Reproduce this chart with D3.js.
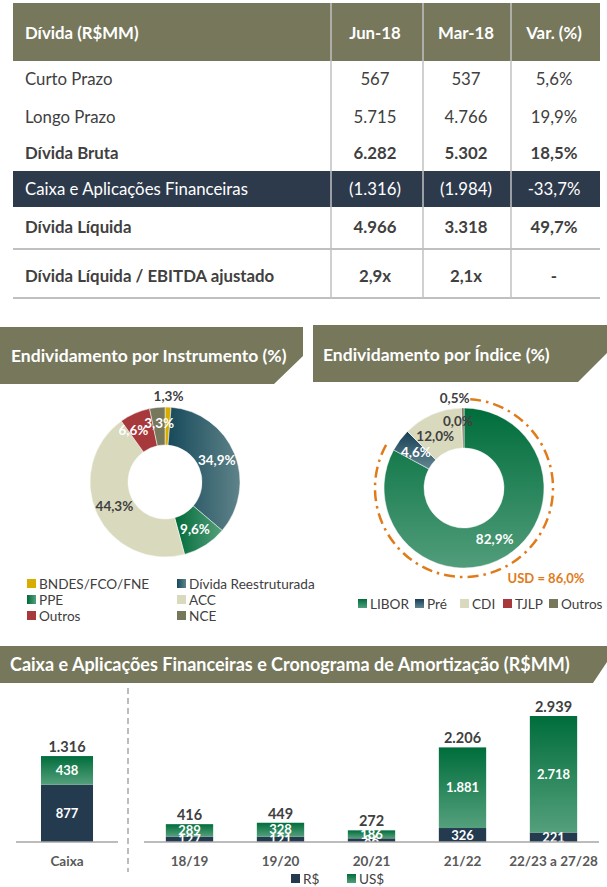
<!DOCTYPE html>
<html><head><meta charset="utf-8">
<script src="https://cdn.jsdelivr.net/npm/d3@7"></script>
<style>
body{margin:0;background:#fff;}
svg{display:block;font-family:Lato,"Open Sans",sans-serif;}
</style>
</head><body>
<svg id="c" width="607" height="887"></svg>
<script>
// ---------------- DATA ----------------
const tableHeader = ["Dívida (R$MM)", "Jun-18", "Mar-18", "Var. (%)"];
const rowLabels = ["Curto Prazo", "Longo Prazo", "Dívida Bruta", "Caixa e Aplicações Financeiras", "Dívida Líquida", "Dívida Líquida / EBITDA ajustado"];
const jun18 = ["567", "5.715", "6.282", "(1.316)", "4.966", "2,9x"];
const mar18 = ["537", "4.766", "5.302", "(1.984)", "3.318", "2,1x"];
const varPct = ["5,6%", "19,9%", "18,5%", "-33,7%", "49,7%", "-"];
const rowBold = [false, false, true, false, true, true];

const instrTitle = "Endividamento por Instrumento (%)";
const instrCategories = ["BNDES/FCO/FNE", "Dívida Reestruturada", "PPE", "ACC", "Outros", "NCE"];
const instrValues = [1.3, 34.9, 9.6, 44.3, 6.6, 3.3];

const indexTitle = "Endividamento por Índice (%)";
const indexCategories = ["LIBOR", "Pré", "CDI", "TJLP", "Outros"];
const indexValues = [82.9, 4.6, 12.0, 0.0, 0.5];
const usdLabel = "USD = 86,0%";

const barTitle = "Caixa e Aplicações Financeiras e Cronograma de Amortização (R$MM)";
const cashCategory = ["Caixa"];
const cashBRL = [877];
const cashUSD = [438];
const cashTotal = [1316];
const periods = ["18/19", "19/20", "20/21", "21/22", "22/23 a 27/28"];
const amortBRL = [127, 121, 86, 326, 221];
const amortUSD = [289, 328, 186, 1881, 2718];
const amortTotal = [416, 449, 272, 2206, 2939];
const barSeries = ["R$", "US$"];

const fmt = v => d3.format(",.0f")(v).replace(/,/g, ".");
const pct = v => d3.format(".1f")(v).replace(".", ",") + "%";

// ---------------- SETUP ----------------
const svg = d3.select("#c");
const defs = svg.append("defs");
function grad(id, c0, c1, horizontal) {
  const g = defs.append("linearGradient").attr("id", id)
    .attr("x1", 0).attr("y1", 0).attr("x2", horizontal ? 1 : 0).attr("y2", horizontal ? 0 : 1);
  g.append("stop").attr("offset", 0).attr("stop-color", c0);
  g.append("stop").attr("offset", 1).attr("stop-color", c1);
  return `url(#${id})`;
}
const OLIVE = "#76775b", NAVY = "#2d3a4c", TXT = "#404040";
const gReestr = grad("gReestr", "#174a5b", "#5f8389", true);
const gPPE = grad("gPPE", "#006a38", "#55a07c", true);
const gLibor = grad("gLibor", "#006d3b", "#519d7b", false);
const gPre = grad("gPre", "#173f55", "#628690", false);
const gUSD = grad("gUSD", "#006d3b", "#54a07c", false);

function headerBox(x0, y0, x1, y1, cutY, cutX) {
  svg.append("path")
    .attr("d", `M${x0},${y0}L${x1},${y0}L${x1},${cutY}L${cutX},${y1}L${x0},${y1}Z`)
    .attr("fill", OLIVE);
}

// ---------------- TABLE ----------------
const tbl = svg.append("g");
const tLeft = 13, tRight = 600;
const colX = [25, 375, 466, 554];
const rowY = [79, 117, 153, 189, 227, 276];
const TFS = 16.8;
tbl.append("rect").attr("x", tLeft).attr("y", 3).attr("width", tRight - tLeft).attr("height", 58).attr("fill", OLIVE);
tbl.append("rect").attr("x", tLeft).attr("y", 171).attr("width", tRight - tLeft).attr("height", 36).attr("fill", NAVY);
[331, 423, 511].forEach(x => tbl.append("line").attr("x1", x).attr("x2", x).attr("y1", 3).attr("y2", 299)
  .attr("stroke", "#c0c0c0").attr("stroke-width", 1.5));
[249, 298].forEach(y => tbl.append("line").attr("x1", tLeft).attr("x2", tRight).attr("y1", y).attr("y2", y)
  .attr("stroke", "#c0c0c0").attr("stroke-width", 2));
tableHeader.forEach((h, i) => tbl.append("text").attr("x", colX[i]).attr("y", 33).attr("dy", "0.35em")
  .attr("text-anchor", i === 0 ? "start" : "middle").attr("fill", "#fff").attr("font-weight", "bold")
  .attr("font-size", TFS).text(h));
rowLabels.forEach((lab, r) => {
  const fill = r === 3 ? "#fff" : TXT;
  const fw = rowBold[r] ? "bold" : "normal";
  [lab, jun18[r], mar18[r], varPct[r]].forEach((t, i) => tbl.append("text").attr("x", colX[i]).attr("y", rowY[r])
    .attr("dy", "0.35em").attr("text-anchor", i === 0 ? "start" : "middle").attr("fill", fill)
    .attr("font-weight", fw).attr("font-size", TFS).text(t));
});

// ---------------- DONUT 1 ----------------
headerBox(0, 327, 303, 384, 356, 274);
svg.append("text").attr("x", 11).attr("y", 356).attr("dy", "0.35em").attr("fill", "#fff")
  .attr("font-weight", "bold").attr("font-size", 17.5).text(instrTitle);

const instrColors = ["#d9ac00", gReestr, gPPE, "#d9d9bd", "#a7383b", OLIVE];
const pie = d3.pie().sort(null).value(d => d);
const d1 = svg.append("g").attr("transform", "translate(165,482)");
const arc1 = d3.arc().innerRadius(37).outerRadius(75);
const arcs1 = pie(instrValues);
d1.selectAll("path").data(arcs1).join("path").attr("d", arc1)
  .attr("fill", (d, i) => instrColors[i]).attr("stroke", "#fff").attr("stroke-width", 0.5);
const lblArc1 = d3.arc().innerRadius(56).outerRadius(56);
const outArc1 = d3.arc().innerRadius(86).outerRadius(86);
arcs1.forEach((a, i) => {
  const c = i === 0 ? outArc1.centroid(a) : lblArc1.centroid(a);
  const dark = i === 0 || i === 3;
  d1.append("text").attr("x", c[0] + (i === 4 ? -9 : 0)).attr("y", c[1] + (i === 5 ? -3 : 0)).attr("dy", "0.35em")
    .attr("text-anchor", "middle").attr("font-weight", "bold").attr("font-size", 13.5)
    .attr("fill", dark ? TXT : "#fff").text(pct(instrValues[i]));
});
// legend 1
const lg1 = svg.append("g");
instrCategories.forEach((c, i) => {
  const x = i % 2 === 0 ? 27 : 177, y = 584 + Math.floor(i / 2) * 16;
  lg1.append("rect").attr("x", x).attr("y", y - 5).attr("width", 9).attr("height", 9).attr("fill", instrColors[i]);
  lg1.append("text").attr("x", x + 12).attr("y", y).attr("dy", "0.35em").attr("font-size", 13.6)
    .attr("fill", TXT).text(c);
});

// ---------------- DONUT 2 ----------------
headerBox(313, 325, 607, 382, 353, 578);
svg.append("text").attr("x", 323).attr("y", 355).attr("dy", "0.35em").attr("fill", "#fff")
  .attr("font-weight", "bold").attr("font-size", 17.5).text(indexTitle);
const indexColors = [gLibor, gPre, "#d9d9bd", "#a7383b", OLIVE];
const d2 = svg.append("g").attr("transform", "translate(464,488)");
const arc2 = d3.arc().innerRadius(40).outerRadius(80);
const arcs2 = pie(indexValues);
d2.selectAll("path").data(arcs2).join("path").attr("d", arc2)
  .attr("fill", (d, i) => indexColors[i]).attr("stroke", "#fff").attr("stroke-width", 0.5);
// USD dash-dot arc
const usdEnd = arcs2[1].startAngle + 0.03;
const p = d3.path();
p.arc(0, 0, 89, 0.07 - Math.PI / 2, usdEnd - Math.PI / 2);
d2.append("path").attr("d", p.toString()).attr("fill", "none").attr("stroke", "#e07b1a")
  .attr("stroke-width", 2.5).attr("stroke-dasharray", "11,5,2.5,5");
const lblArc2 = d3.arc().innerRadius(60).outerRadius(60);
arcs2.forEach((a, i) => {
  let c = lblArc2.centroid(a), anchor = "middle", dark = true;
  if (i === 0 || i === 1) dark = false;
  if (i === 2) c = [c[0] - 5, c[1] + 3];
  if (i === 3) { c = d3.arc().innerRadius(67).outerRadius(67).centroid(a); c = [c[0] + 11, c[1]]; anchor = "end"; }
  if (i === 4) { c = d3.arc().innerRadius(90).outerRadius(90).centroid(a); c = [c[0] + 7, c[1]]; anchor = "end"; }
  d2.append("text").attr("x", c[0]).attr("y", c[1]).attr("dy", "0.35em").attr("text-anchor", anchor)
    .attr("font-weight", "bold").attr("font-size", 13.5).attr("fill", dark ? TXT : "#fff")
    .text(pct(indexValues[i]));
});
svg.append("text").attr("x", 546).attr("y", 578).attr("dy", "0.35em").attr("text-anchor", "middle")
  .attr("font-weight", "bold").attr("font-size", 13).attr("fill", "#e07b1a").text(usdLabel);
// legend 2
const lg2x = [358, 415, 460, 503, 549];
indexCategories.forEach((c, i) => {
  svg.append("rect").attr("x", lg2x[i]).attr("y", 599).attr("width", 9).attr("height", 9).attr("fill", indexColors[i]);
  svg.append("text").attr("x", lg2x[i] + 12).attr("y", 604).attr("dy", "0.35em").attr("font-size", 13.6)
    .attr("fill", TXT).text(c);
});

// ---------------- BAR CHART ----------------
headerBox(0, 646, 607, 683, 662, 593);
svg.append("text").attr("x", 10).attr("y", 665).attr("dy", "0.35em").attr("fill", "#fff")
  .attr("font-weight", "bold").attr("font-size", 18).text(barTitle);

const base = 842;
const xC = d3.scaleBand().domain(cashCategory).range([16, 118]).paddingInner(0.49).paddingOuter(0.245);
const yC = d3.scaleLinear().domain([0, 1316]).range([base, 756]);
const xR = d3.scaleBand().domain(periods).range([144, 599]).paddingInner(0.48).paddingOuter(0.24);
const yR = d3.scaleLinear().domain([0, 3000]).range([base, base - 128.6]);

function drawBars(cats, brl, usd, tot, x, y) {
  const g = svg.append("g");
  cats.forEach((c, i) => {
    const x0 = x(c), w = x.bandwidth();
    g.append("rect").attr("x", x0).attr("y", y(brl[i])).attr("width", w).attr("height", y(0) - y(brl[i])).attr("fill", "#233a4f");
    g.append("rect").attr("x", x0).attr("y", y(brl[i] + usd[i])).attr("width", w)
      .attr("height", y(brl[i]) - y(brl[i] + usd[i])).attr("fill", gUSD);
  });
  cats.forEach((c, i) => {
    const cx = x(c) + x.bandwidth() / 2;
    g.append("text").attr("x", cx).attr("y", (y(0) + y(brl[i])) / 2).attr("dy", "0.35em").attr("text-anchor", "middle")
      .attr("font-weight", "bold").attr("font-size", 13).attr("fill", "#fff").text(fmt(brl[i]));
    g.append("text").attr("x", cx).attr("y", (y(brl[i]) + y(brl[i] + usd[i])) / 2).attr("dy", "0.35em").attr("text-anchor", "middle")
      .attr("font-weight", "bold").attr("font-size", 13).attr("fill", "#fff").text(fmt(usd[i]));
    g.append("text").attr("x", cx).attr("y", y(brl[i] + usd[i]) - 9).attr("dy", "0.35em").attr("text-anchor", "middle")
      .attr("font-weight", "bold").attr("font-size", 14.5).attr("fill", TXT).text(fmt(tot[i]));
    g.append("text").attr("x", cx).attr("y", 861).attr("dy", "0.35em").attr("text-anchor", "middle")
      .attr("font-weight", "bold").attr("font-size", 13.5).attr("fill", "#595959").text(c);
  });
}
drawBars(cashCategory, cashBRL, cashUSD, cashTotal, xC, yC);
drawBars(periods, amortBRL, amortUSD, amortTotal, xR, yR);
// white cover below baseline hides the part of small labels that spills out of the bars
svg.append("rect").attr("x", 0).attr("y", base + 1).attr("width", 607).attr("height", 10).attr("fill", "#fff");
svg.append("line").attr("x1", 16).attr("x2", 118).attr("y1", base).attr("y2", base).attr("stroke", "#a6a6a6").attr("stroke-width", 1.5);
svg.append("line").attr("x1", 144).attr("x2", 599).attr("y1", base).attr("y2", base).attr("stroke", "#a6a6a6").attr("stroke-width", 1.5);
svg.append("line").attr("x1", 128).attr("x2", 128).attr("y1", 688).attr("y2", 872).attr("stroke", "#a6a6a6")
  .attr("stroke-width", 1.5).attr("stroke-dasharray", "6,4");
// legend
const lg3x = [291, 347];
barSeries.forEach((s, i) => {
  svg.append("rect").attr("x", lg3x[i]).attr("y", 874).attr("width", 9).attr("height", 9).attr("fill", i === 0 ? "#233a4f" : gUSD);
  svg.append("text").attr("x", lg3x[i] + 12).attr("y", 879).attr("dy", "0.35em").attr("font-size", 13.6)
    .attr("fill", TXT).text(s);
});
</script>
</body></html>
